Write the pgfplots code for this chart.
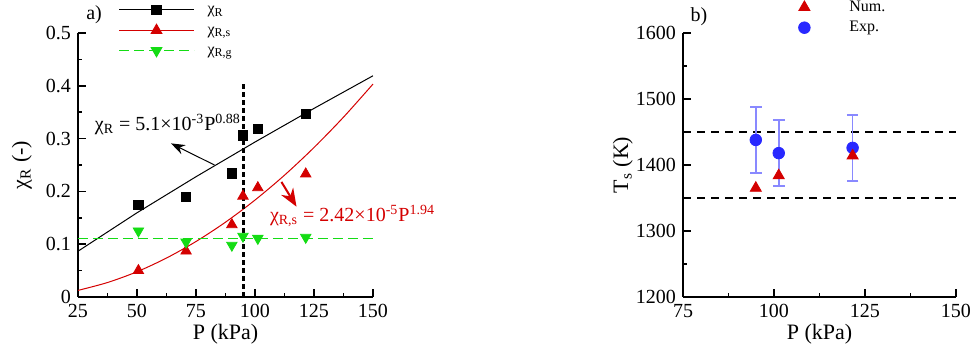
\documentclass[border=0pt]{standalone}
\usepackage{fontspec}
\setmainfont{Liberation Serif}
\usepackage{pgfplots}
\pgfplotsset{compat=1.18}
\usetikzlibrary{arrows.meta}

\definecolor{cR}{RGB}{212,0,0}
\definecolor{cG}{RGB}{20,220,20}
\definecolor{cB}{RGB}{40,40,255}

\pgfplotsset{
  every axis/.append style={
    scale only axis, axis lines*=left, tick align=inside,
    major tick length=3.8pt, minor tick length=2.2pt,
    axis line style={line width=0.9pt},
    every tick/.style={line width=0.8pt, black},
    tick label style={font=\fontsize{10}{11}\selectfont},
    label style={font=\fontsize{11}{12}\selectfont},
    /pgf/number format/assume math mode=true,
    /pgf/number format/1000 sep={},
    clip=false,
    minor x tick num=1, minor y tick num=1,
    xlabel style={at={(axis description cs:0.5,-0.14)}, anchor=center},
  },
  mylegend/.style={
    draw=none, fill=none, inner sep=0pt, anchor=north west,
    font=\fontsize{8}{9}\selectfont, row sep=2pt,
    nodes={inner sep=0pt, text height=6pt, text depth=2.2pt},
    /tikz/every odd column/.append style={column sep=6.5pt},
  },
}

\begin{document}
\begin{tikzpicture}
\path[use as bounding box] (0,0) rectangle (485.5pt,173.5pt);

% ---- a) radiant fraction ----
\begin{axis}[
  at={(39pt,25pt)}, anchor=south west,
  width=147.5pt, height=132pt,
  xmin=25, xmax=150, ymin=0, ymax=0.5,
  xtick={25,50,75,100,125,150},
  ytick={0,0.1,0.2,0.3,0.4,0.5},
  xlabel={P (kPa)}, ylabel={χ\textsubscript{R} (-)},
  ylabel style={at={(axis description cs:-0.19,0.5)}, anchor=center},
  legend style={mylegend, at={(0.136,1.12)}},
  legend cell align=left,
  legend image code/.code={\draw[mark repeat=2,mark phase=2,#1] plot coordinates {(0pt,0pt)(18.75pt,0pt)(37.5pt,0pt)};},
]
\addlegendimage{black, line width=0.5pt, mark=square*, mark size=2.3pt}
\addlegendentry{χ\textsubscript{R}}
\addlegendimage{cR, line width=0.5pt, mark=triangle*, mark size=3pt}
\addlegendentry{χ\textsubscript{R,s}}
\addlegendimage{cG, line width=0.5pt, dash pattern=on 5pt off 2.5pt, mark=triangle*, mark size=3pt, mark options={solid, rotate=180}}
\addlegendentry{χ\textsubscript{R,g}}

% fits
\addplot[black, line width=0.5pt, forget plot] coordinates {
  (25,0.0867) (50,0.1595) (75,0.2278) (100,0.2935) (125,0.3572) (150,0.4190)};
\addplot[cR, line width=0.5pt, smooth, forget plot] coordinates {
  (25,0.0125) (37.5,0.0274) (50,0.0478) (62.5,0.0738) (75,0.1051) (87.5,0.1417)
  (100,0.1836) (112.5,0.2307) (125,0.2831) (137.5,0.3406) (150,0.4033)};
\addplot[cG, line width=0.5pt, dash pattern=on 5pt off 2.5pt, forget plot] coordinates {(25,0.11) (150,0.11)};
\addplot[black, line width=1.6pt, dash pattern=on 2.5pt off 1.5pt, forget plot] coordinates {(95,0) (95,0.405)};

% data
\addplot[only marks, mark=square*, mark size=2.3pt, black, forget plot] coordinates {
  (50.6,0.174) (70.8,0.189) (90.2,0.234) (94.9,0.306) (101.2,0.318) (121.5,0.347)};
\addplot[only marks, mark=triangle*, mark size=3pt, cR, forget plot] coordinates {
  (50.6,0.050) (70.8,0.087) (90.2,0.137) (94.9,0.191) (101.2,0.207) (121.5,0.233)};
\addplot[only marks, mark=triangle*, mark size=3pt, mark options={rotate=180}, cG, forget plot] coordinates {
  (50.6,0.125) (70.8,0.104) (90.2,0.098) (94.9,0.115) (101.2,0.111) (121.5,0.113)};

\node[anchor=base west, font=\fontsize{10}{11}\selectfont, inner sep=0pt] at (axis cs:32,0.315)
  {χ\textsubscript{R} = 5.1×10\textsuperscript{-3}P\textsuperscript{0.88}};
\node[anchor=base west, font=\fontsize{10}{11}\selectfont, inner sep=0pt, text=cR] at (axis cs:106.2,0.1426)
  {χ\textsubscript{R,s} = 2.42×10\textsuperscript{-5}P\textsuperscript{1.94}};
\draw[-{Stealth[length=7pt,width=5pt]}, line width=0.5pt] (axis cs:82.8,0.25) -- (axis cs:64.4,0.291);
\draw[cR, -{Stealth[length=9pt,width=7pt]}, line width=1pt] (axis cs:111.2,0.218) -- (axis cs:117.6,0.171);
\node[font=\fontsize{10}{11}\selectfont] at (axis cs:31.8,0.534) {a)};
\end{axis}

% ---- b) surface temperature ----
\begin{axis}[
  at={(341.5pt,25pt)}, anchor=south west,
  width=136.5pt, height=132pt,
  xmin=75, xmax=150, ymin=1200, ymax=1600,
  xtick={75,100,125,150},
  ytick={1200,1300,1400,1500,1600},
  xlabel={P (kPa)}, ylabel={T\textsubscript{s} (K)},
  ylabel style={at={(axis description cs:-0.22,0.5)}, anchor=center},
  legend style={mylegend, at={(0.326,1.13)}},
  legend cell align=left,
  legend image code/.code={\draw[#1] plot[only marks] coordinates {(16pt,0pt)}; \path[draw=none] (0pt,0pt) -- (32pt,0pt);},
]
\addlegendimage{mark=triangle*, mark size=3.2pt, cR}
\addlegendentry{Num.}
\addlegendimage{mark=*, mark size=2.9pt, cB}
\addlegendentry{Exp.}

\addplot[black, line width=0.8pt, dash pattern=on 4pt off 3pt, forget plot] coordinates {(75,1450) (150,1450)};
\addplot[black, line width=0.8pt, dash pattern=on 4pt off 3pt, forget plot] coordinates {(75,1350) (150,1350)};

\addplot[only marks, mark=*, mark size=2.9pt, cB, forget plot,
  error bars/.cd, y dir=both, y explicit,
  error bar style={cB!55, line width=0.8pt},
  error mark options={cB!55, line width=0.8pt, rotate=90, mark size=2.9pt}]
  coordinates {(95,1438) +- (0,50) (101.3,1418) +- (0,50) (121.6,1426) +- (0,50)};
\addplot[only marks, mark=triangle*, mark size=3.2pt, cR, forget plot] coordinates {
  (95,1365) (101.3,1384) (121.6,1414)};

\node[font=\fontsize{10}{11}\selectfont] at (axis cs:79.4,1624.7) {b)};
\end{axis}
\end{tikzpicture}
\end{document}
